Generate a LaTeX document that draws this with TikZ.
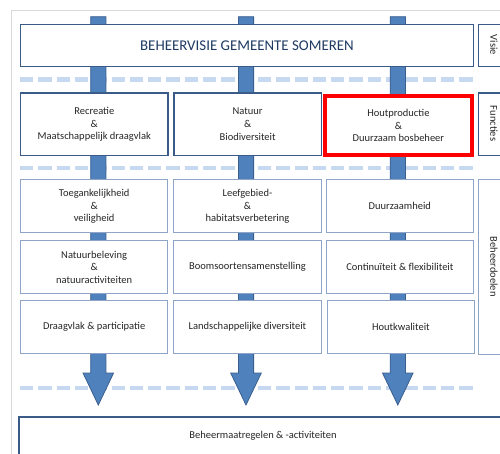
\documentclass[tikz,border=0pt]{standalone}
\usepackage{fontspec}
\setmainfont{Carlito}
\definecolor{frameg}{HTML}{D9D9D9}
\definecolor{dashb}{HTML}{C6D9F1}
\definecolor{arrowf}{HTML}{4F81BD}
\definecolor{arrowd}{HTML}{3A5F8E}
\definecolor{darkb}{HTML}{3A5A88}
\definecolor{lightb}{HTML}{8FA5C7}
\definecolor{titleb}{HTML}{1F3B63}
\definecolor{txt}{HTML}{262626}
\tikzset{
  boxd/.style={draw=darkb, line width=1.3pt, fill=white, inner sep=0pt, anchor=north west, align=center, font=\fontsize{10.5}{12.7}\selectfont, text=txt},
  boxl/.style={draw=lightb, line width=1pt, fill=white, inner sep=0pt, anchor=north west, align=center, font=\fontsize{10.5}{12.3}\selectfont, text=txt},
  redbox/.style={draw=red, line width=3.8pt, fill=white, inner sep=0pt, anchor=north west, align=center, font=\fontsize{10.5}{12.7}\selectfont, text=txt},
  sidelab/.style={font=\fontsize{10.5}{12}\selectfont, text=txt, rotate=-90},
  dashline/.style={draw=dashb, line width=4.5pt, dash pattern=on 13.3pt off 5pt},
  blockarrow/.style={fill=arrowf, draw=arrowd, line width=0.8pt, line join=miter},
}
\begin{document}
\begin{tikzpicture}[x=1pt,y=-1pt]
\useasboundingbox (0,0) rectangle (500,454);
\clip (0,0) rectangle (500,454);
% outer frame
\draw[frameg, line width=0.8pt] (11,470) -- (11,10) -- (510,10);
% dashed separators
\draw[dashline] (20,79.5) -- (472.7,79.5);
\draw[dashline] (20,168) -- (472.7,168);
\draw[dashline] (20,388) -- (472.7,388);
% block arrows
\foreach \c/\n in {98.3/a1, 246/a2, 397.8/a3}{
  \draw[blockarrow] (\c-7.6,16.7) -- (\c+7.6,16.7) -- (\c+7.6,373) -- (\c+15.3,373)
     -- (\c,405) -- (\c-15.3,373) -- (\c-7.6,373) -- cycle;
}
% top
\node[boxd, minimum width=452.7pt, minimum height=42pt, font=\fontsize{14.9}{16}\selectfont, text=titleb] (visie) at (20,24) {BEHEERVISIE GEMEENTE SOMEREN};
\node[boxd, minimum width=32pt, minimum height=42pt] (visiebox) at (478,24) {};
\node[sidelab] (visielab) at (494,45) {Visie};
% functies row
\node[boxd, minimum width=147.3pt, minimum height=62.7pt] (f1) at (20,92.3) {Recreatie\\\&\\Maatschappelijk draagvlak};
\node[boxd, minimum width=147.4pt, minimum height=62.7pt] (f2) at (173.3,92.3) {Natuur\\\&\\Biodiversiteit};
\node[redbox, minimum width=146.6pt, minimum height=59pt] (f3) at (323.2,94.2) {Houtproductie\\\&\\Duurzaam bosbeheer};
\node[boxd, minimum width=32pt, minimum height=62.7pt] (funcbox) at (478,92.3) {};
\node[sidelab] (funclab) at (494,123.6) {Functies};
% beheerdoelen rows
\node[boxl, minimum width=147.3pt, minimum height=53pt] (b11) at (20,179.3) {Toegankelijkheid\\\&\\veiligheid};
\node[boxl, minimum width=147.4pt, minimum height=53pt] (b12) at (173.3,179.3) {Leefgebied-\\\&\\habitatsverbetering};
\node[boxl, minimum width=146.7pt, minimum height=53pt] (b13) at (326,179.3) {Duurzaamheid};
\node[boxl, minimum width=147.3pt, minimum height=53.3pt] (b21) at (20,240) {Natuurbeleving\\\&\\natuuractiviteiten};
\node[boxl, minimum width=147.4pt, minimum height=53.3pt] (b22) at (173.3,240) {Boomsoortensamenstelling};
\node[boxl, minimum width=146.7pt, minimum height=53.3pt] (b23) at (326,240) {Continuïteit \& flexibiliteit};
\node[boxl, minimum width=147.3pt, minimum height=53.3pt] (b31) at (20,300) {Draagvlak \& participatie};
\node[boxl, minimum width=147.4pt, minimum height=53.3pt] (b32) at (173.3,300) {Landschappelijke diversiteit};
\node[boxl, minimum width=147.3pt, minimum height=53.3pt] (b33) at (326.7,300) {Houtkwaliteit};
\node[boxl, minimum width=32pt, minimum height=174.7pt] (doelbox) at (478,179.3) {};
\node[sidelab] (doellab) at (494,266.7) {Beheerdoelen};
% bottom
\node[boxd, line width=2pt, minimum width=500pt, minimum height=60pt] (maatr) at (18,416) {};
\node[font=\fontsize{10.5}{12}\selectfont, text=txt] (maatrlab) at (263,435.7) {Beheermaatregelen \& -activiteiten};
\end{tikzpicture}
\end{document}
